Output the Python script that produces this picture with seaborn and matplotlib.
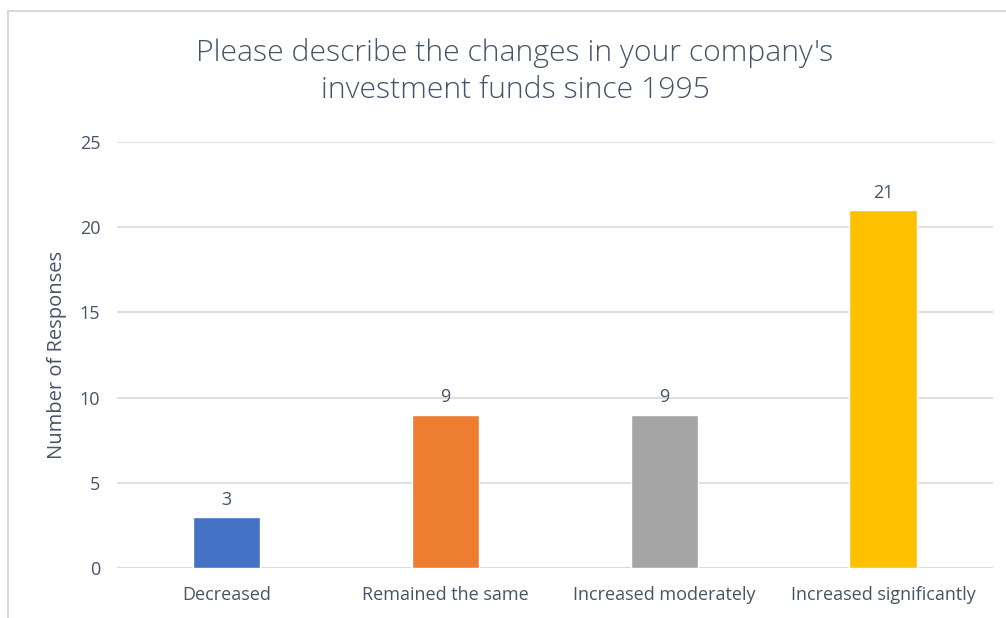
import matplotlib
matplotlib.use("Agg")
import matplotlib.pyplot as plt
import matplotlib.patches as mpatches
import pandas as pd
import seaborn as sns

categories = ["Decreased", "Remained the same", "Increased moderately", "Increased significantly"]
responses = [3, 9, 9, 21]
colors = ["#4472C4", "#ED7D31", "#A5A5A5", "#FFC000"]
yticks = [0, 5, 10, 15, 20, 25]

sns.set_theme(style="white")
plt.rcParams["font.family"] = ["Open Sans", "DejaVu Sans"]

text_col = "#44546A"
grid_col = "#D9D9D9"

df = pd.DataFrame({"Category": categories, "Responses": responses})

fig = plt.figure(figsize=(10.06, 6.18), dpi=100)
ax = fig.add_axes([0.1163, 0.0809, 0.8707, 0.6893])

sns.barplot(data=df, x="Category", y="Responses", hue="Category",
            palette=colors, saturation=1, width=0.31, legend=False, ax=ax, zorder=3)

for cont, val in zip(ax.containers, responses):
    ax.bar_label(cont, labels=[str(val)], padding=6, fontsize=13, color=text_col)

ax.set_ylim(0, 25)
ax.set_xlim(-0.5, 3.5)
ax.set_yticks(yticks)
ax.yaxis.grid(True, color=grid_col, linewidth=1.2, zorder=0)
ax.set_axisbelow(True)
for s in ax.spines.values():
    s.set_visible(False)
ax.axhline(0, color=grid_col, linewidth=1.2, zorder=1)
ax.tick_params(axis="both", length=0, labelsize=13, colors=text_col)
ax.tick_params(axis="y", pad=12)
ax.tick_params(axis="x", pad=13)
ax.set_xlabel("")
ax.set_ylabel("Number of Responses", fontsize=14.5, color=text_col, labelpad=9)

fig.text(0.512, 0.884, "Please describe the changes in your company's\ninvestment funds since 1995",
         ha="center", va="center", fontsize=21.7, color=text_col, linespacing=1.32,
         fontweight="light")

border = mpatches.Rectangle((8 / 1006, -0.1), 1.2, 1 - 11 / 618 + 0.1,
                            transform=fig.transFigure, fill=False,
                            edgecolor=grid_col, linewidth=1.5)
fig.patches.append(border)

fig.savefig("out.png", dpi=100)
